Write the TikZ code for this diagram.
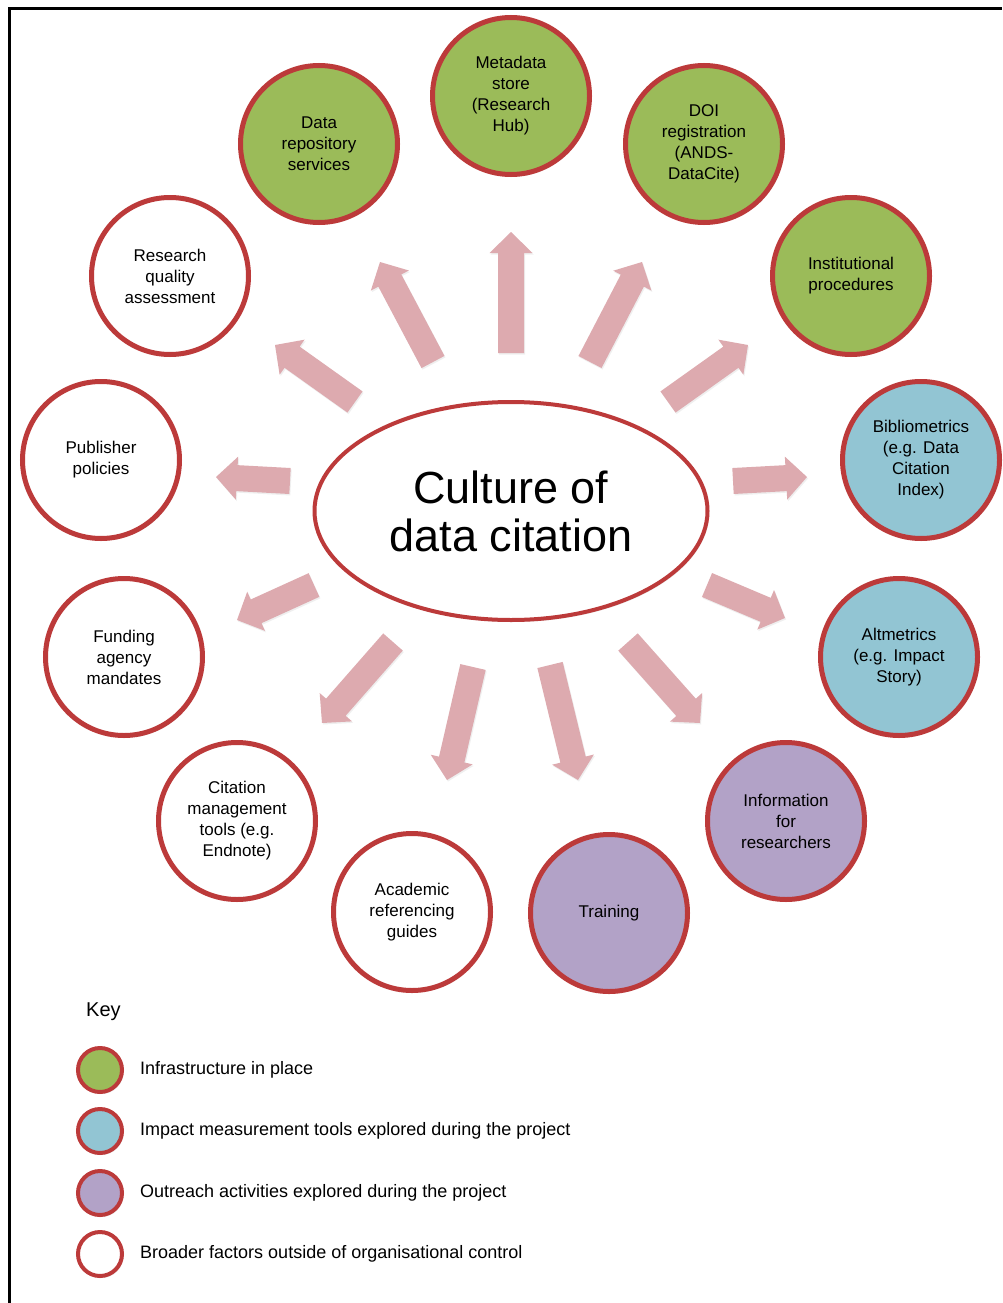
\documentclass[tikz,border=0pt]{standalone}
\usepackage{fontspec}
\setmainfont{Liberation Sans}
\usetikzlibrary{shapes.geometric,calc,shadows}
\definecolor{rim}{RGB}{188,58,58}
\definecolor{infra}{RGB}{155,187,89}
\definecolor{impact}{RGB}{146,197,211}
\definecolor{outreach}{RGB}{178,162,199}
\definecolor{pinkarrow}{RGB}{221,170,175}
\newcommand\fatarrow[2]{%
  \path[arrowfill]
    ($(#1)!13pt!90:(#2)$) --
    ($(#2)!21pt!(#1)!13pt!90:(#2)$) --
    ($(#2)!21pt!(#1)!21.5pt!90:(#2)$) --
    (#2) --
    ($(#2)!21pt!(#1)!21.5pt!-90:(#2)$) --
    ($(#2)!21pt!(#1)!13pt!-90:(#2)$) --
    ($(#1)!13pt!-90:(#2)$) -- cycle;}
\begin{document}
\begin{tikzpicture}[x=1pt,y=-1pt,
  shade/.style={drop shadow={opacity=0.18,shadow xshift=1.5pt,shadow yshift=-2pt}},
  bubble/.style={circle, draw=rim, line width=5pt, minimum size=157pt, inner sep=0pt,
    align=center, font=\fontsize{17}{21}\selectfont, shade},
  broad/.style={bubble, fill=white},
  infrabub/.style={bubble, fill=infra},
  impactbub/.style={bubble, fill=impact},
  outreachbub/.style={bubble, fill=outreach},
  arrowfill/.style={fill=pinkarrow, drop shadow={opacity=0.12,shadow xshift=1pt,shadow yshift=-1.5pt}},
  keydot/.style={circle, draw=rim, line width=4pt, minimum size=44pt, inner sep=0pt, shade},
  keytext/.style={anchor=west, inner sep=0pt, font=\fontsize{18}{21}\selectfont},
  frame/.style={line width=3pt, black}]
\useasboundingbox (0,0) rectangle (1002,1303);
\fill[white] (0,0) rectangle (1002,1303);
\draw[frame] (9,1303) -- (9,9) -- (1002,9);

% arrows
\coordinate (t1) at (355,402);  \coordinate (h1) at (275,345);
\coordinate (t2) at (433,362);  \coordinate (h2) at (380,262);
\coordinate (t3) at (511,353);  \coordinate (h3) at (511,232);
\coordinate (t4) at (590,362);  \coordinate (h4) at (642,262);
\coordinate (t5) at (668,402);  \coordinate (h5) at (748,345);
\coordinate (t6) at (733,481);  \coordinate (h6) at (807,477);
\coordinate (t7) at (707,585);  \coordinate (h7) at (785,618);
\coordinate (t8) at (628,642);  \coordinate (h8) at (700,723);
\coordinate (t9) at (550,665);  \coordinate (h9) at (578,780);
\coordinate (t10) at (473,667); \coordinate (h10) at (447,780);
\coordinate (t11) at (393,642); \coordinate (h11) at (322,723);
\coordinate (t12) at (314,585); \coordinate (h12) at (237,620);
\coordinate (t13) at (290,481); \coordinate (h13) at (216,477);
\foreach \i in {1,...,13} {\fatarrow{t\i}{h\i}}

% central ellipse
\node[ellipse, draw=rim, line width=4pt, fill=white, minimum width=393pt, minimum height=218pt,
  inner sep=0pt, align=center, font=\fontsize{45}{48}\selectfont, shade] (c) at (511,511)
  {Culture of\\data citation};

% bubbles
\node[broad] (n1) at (170,276) {Research\\quality\\assessment};
\node[infrabub] (n2) at (319,144) {Data\\repository\\services};
\node[infrabub] (n3) at (511,96) {Metadata\\store\\(Research\\Hub)};
\node[infrabub] (n4) at (704,144) {DOI\\registration\\(ANDS-\\DataCite)};
\node[infrabub] (n5) at (851,276) {Institutional\\procedures};
\node[impactbub] (n6) at (921,460) {Bibliometrics\\(e.g. Data\\Citation\\Index)};
\node[impactbub] (n7) at (899,657) {Altmetrics\\(e.g. Impact\\Story)};
\node[outreachbub] (n8) at (786,821) {Information\\for\\researchers};
\node[outreachbub] (n9) at (609,913) {Training};
\node[broad] (n10) at (412,912) {Academic\\referencing\\guides};
\node[broad] (n11) at (237,821) {Citation\\management\\tools (e.g.\\Endnote)};
\node[broad] (n12) at (124,657) {Funding\\agency\\mandates};
\node[broad] (n13) at (101,460) {Publisher\\policies};

% key
\node[anchor=west, inner sep=0pt, font=\fontsize{20}{24}\selectfont] (key) at (86,1012) {Key};
\node[keydot, fill=infra] (k1) at (100,1070) {};
\node[keydot, fill=impact] (k2) at (100,1131) {};
\node[keydot, fill=outreach] (k3) at (100,1193) {};
\node[keydot, fill=white] (k4) at (100,1254) {};
\node[keytext] (l1) at (140,1070) {Infrastructure in place};
\node[keytext] (l2) at (140,1131) {Impact measurement tools explored during the project};
\node[keytext] (l3) at (140,1193) {Outreach activities explored during the project};
\node[keytext] (l4) at (140,1254) {Broader factors outside of organisational control};
\end{tikzpicture}
\end{document}
